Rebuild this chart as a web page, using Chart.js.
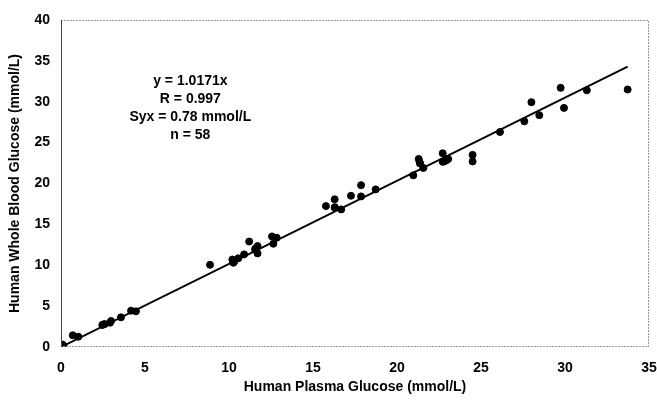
<!DOCTYPE html>
<html>
<head>
<meta charset="utf-8">
<script src="https://cdn.jsdelivr.net/npm/chart.js@4.4.0/dist/chart.umd.min.js"></script>
<style>
  html, body { margin: 0; padding: 0; background: #fff; }
  #wrap { width: 657px; height: 401px; }
</style>
</head>
<body>
<div id="wrap"><canvas id="myChart" width="657" height="401"></canvas></div>
<script>
// plasma glucose (x) and whole blood glucose (y), mmol/L
var plasma = [0.05, 0.1, 0.15, 0.08, 0.7, 1.03, 2.46, 2.5, 2.6, 2.92, 2.98, 3.57, 4.17, 4.46,
  8.87, 10.2, 10.25, 10.26, 10.3, 10.55, 10.9, 11.2, 11.55, 11.6, 11.7, 11.7, 12.56, 12.64, 12.84,
  15.77, 16.29, 16.29, 16.3, 16.68, 17.26, 17.86, 17.86, 18.73,
  20.97, 21.29, 21.35, 21.37, 21.57, 22.72, 22.72, 22.8, 22.9, 22.95, 23.05, 24.5, 24.5,
  26.13, 27.58, 28.0, 28.47, 29.74, 29.94, 31.3, 33.73];
var wholeBlood = [0.2, 0.25, 0.15, 0.3, 1.43, 1.26, 2.69, 2.75, 2.8, 2.97, 3.18, 3.63, 4.44, 4.36,
  10.05, 10.7, 10.5, 10.3, 10.4, 10.85, 11.33, 12.9, 11.94, 12.1, 12.35, 11.45, 13.53, 12.63, 13.36,
  17.24, 18.06, 17.03, 17.1, 16.83, 18.5, 19.8, 18.42, 19.28,
  21.0, 23.0, 22.6, 22.45, 21.9, 23.7, 22.65, 22.7, 22.8, 22.9, 23.0, 23.5, 22.7,
  26.3, 27.6, 29.95, 28.36, 31.7, 29.25, 31.4, 31.5];
var slope = 1.0171;
var fitX = [0, 33.73];
var statsText = ['y = 1.0171x', 'R = 0.997', 'Syx = 0.78 mmol/L', 'n = 58'];
var xTicks = [0, 5, 10, 15, 20, 25, 30, 35];
var yTicks = [0, 5, 10, 15, 20, 25, 30, 35, 40];

var puntos = plasma.map(function(x, i) { return { x: x, y: wholeBlood[i] }; });
var recta = fitX.map(function(x) { return { x: x, y: slope * x }; });

var fuente = { family: "'Liberation Sans', Arial, sans-serif", size: 14, weight: 'bold' };

var marco = {
  id: 'marco',
  afterDraw: function(chart) {
    var a = chart.chartArea, c = chart.ctx;
    c.save();
    c.strokeStyle = '#999';
    c.lineWidth = 1;
    c.setLineDash([2, 1]);
    c.beginPath();
    c.moveTo(a.left, a.top + 0.5); c.lineTo(a.right - 0.5, a.top + 0.5);
    c.lineTo(a.right - 0.5, a.bottom - 0.5); c.lineTo(a.left, a.bottom - 0.5);
    c.stroke();
    c.setLineDash([]);
    c.strokeStyle = '#444';
    c.beginPath();
    c.moveTo(a.left + 0.5, a.top); c.lineTo(a.left + 0.5, a.bottom);
    c.stroke();
    // cuadro de estadisticas
    c.fillStyle = '#000';
    c.font = 'bold 14px ' + fuente.family;
    c.textAlign = 'center';
    c.textBaseline = 'middle';
    var cx = chart.scales.x.getPixelForValue(7.7);
    statsText.forEach(function(t, i) {
      c.fillText(t, cx, chart.scales.y.getPixelForValue(32.5) + i * 18);
    });
    c.restore();
  }
};

const ctx = document.getElementById('myChart');
const myChart = new Chart(ctx, {
  type: 'scatter',
  data: {
    datasets: [{
      label: 'fit',
      type: 'line',
      data: recta,
      borderColor: '#000',
      borderWidth: 2,
      pointRadius: 0,
      fill: false,
      order: 2
    }, {
      label: 'samples',
      data: puntos,
      backgroundColor: '#000',
      borderColor: '#000',
      pointRadius: 3.5,
      order: 1
    }]
  },
  plugins: [marco],
  options: {
    responsive: false,
    animation: false,
    layout: { padding: { top: 20, right: 8, left: 0, bottom: 0 } },
    plugins: { legend: { display: false }, tooltip: { enabled: false } },
    scales: {
      x: {
        type: 'linear',
        min: 0, max: 35,
        afterBuildTicks: function(s) { s.ticks = xTicks.map(function(v) { return { value: v }; }); },
        afterFit: function(s) { s.height = 54; s.paddingLeft = 0; s.paddingRight = 0; },
        grid: { display: false, drawTicks: false },
        border: { display: false },
        ticks: { color: '#000', font: fuente, padding: 13, maxRotation: 0 },
        title: { display: true, text: 'Human Plasma Glucose (mmol/L)', color: '#000', font: fuente, padding: { top: 2, bottom: 5 } }
      },
      y: {
        type: 'linear',
        min: 0, max: 40,
        afterBuildTicks: function(s) { s.ticks = yTicks.map(function(v) { return { value: v }; }); },
        afterFit: function(s) { s.width = 61; s.paddingTop = 0; s.paddingBottom = 0; },
        grid: { display: false, drawTicks: false },
        border: { display: false },
        ticks: { color: '#000', font: fuente, padding: 11 },
        title: { display: true, text: 'Human Whole Blood Glucose (mmol/L)', color: '#000', font: fuente, padding: { top: 7, bottom: 0 } }
      }
    }
  }
});
</script>
</body>
</html>
